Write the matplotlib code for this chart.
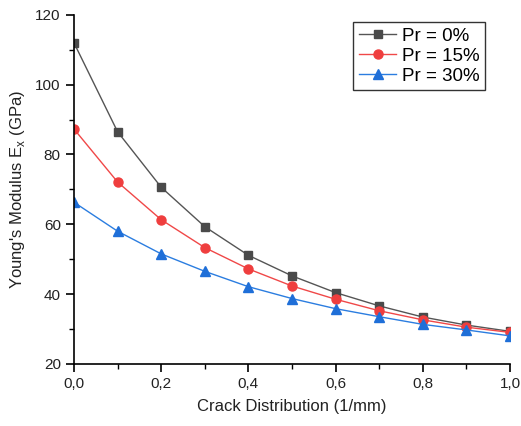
import matplotlib
matplotlib.use("Agg")
import matplotlib.pyplot as plt
from matplotlib.ticker import MultipleLocator, FuncFormatter

# Crack distribution (1/mm)
crack = [0.0, 0.1, 0.2, 0.3, 0.4, 0.5, 0.6, 0.7, 0.8, 0.9, 1.0]

# Young's modulus Ex (GPa) for each porosity
ex_pr0 = [112.0, 86.5, 70.6, 59.3, 51.1, 45.2, 40.4, 36.6, 33.4, 31.1, 29.3]
ex_pr15 = [87.3, 72.1, 61.3, 53.3, 47.2, 42.3, 38.5, 35.2, 32.6, 30.5, 29.0]
ex_pr30 = [66.3, 58.0, 51.5, 46.5, 42.1, 38.7, 35.8, 33.5, 31.3, 29.7, 28.0]

labels = ["Pr = 0%", "Pr = 15%", "Pr = 30%"]

plt.rcParams['font.family'] = ['Liberation Sans', 'DejaVu Sans']

fig = plt.figure(figsize=(5.21, 4.26), dpi=100)
ax = fig.add_axes([0.142, 0.146, 0.837, 0.819])

ax.plot(crack, ex_pr0, color='#555555', lw=1.0, marker='s', ms=6,
        mfc='#4a4a4a', mec='#4a4a4a', label=labels[0])
ax.plot(crack, ex_pr15, color='#f04848', lw=1.0, marker='o', ms=6.5,
        mfc='#ef3e3e', mec='#ef3e3e', label=labels[1])
ax.plot(crack, ex_pr30, color='#2b7de0', lw=1.0, marker='^', ms=7,
        mfc='#1f6fd8', mec='#1f6fd8', label=labels[2])

ax.set_xlim(0, 1.0)
ax.set_ylim(20, 120)
ax.xaxis.set_major_locator(MultipleLocator(0.2))
ax.xaxis.set_minor_locator(MultipleLocator(0.1))
ax.yaxis.set_major_locator(MultipleLocator(20))
ax.yaxis.set_minor_locator(MultipleLocator(10))
ax.xaxis.set_major_formatter(FuncFormatter(lambda v, p: f"{v:.1f}".replace('.', ',')))

for s in ['top', 'right']:
    ax.spines[s].set_visible(False)
for s in ['left', 'bottom']:
    ax.spines[s].set_linewidth(1.2)
ax.tick_params(which='major', direction='out', length=6, width=1.2, labelsize=11, colors='black')
ax.tick_params(which='minor', direction='out', length=3.5, width=1.0)
for lab in ax.get_xticklabels() + ax.get_yticklabels():
    lab.set_color('#222222')

ax.set_xlabel("Crack Distribution (1/mm)", fontsize=12, color='#222222', labelpad=6)
ax.set_ylabel("Young's Modulus E$_\\mathregular{x}$ (GPa)", fontsize=12, color='#222222', labelpad=6)

leg = ax.legend(loc='upper right', bbox_to_anchor=(0.943, 0.98), fontsize=13.5, frameon=True,
                fancybox=False, edgecolor='black', handlelength=2.0, borderpad=0.3,
                labelspacing=0.15, handletextpad=0.3, borderaxespad=0.0)
leg.get_frame().set_linewidth(1.0)

fig.savefig("out.png", dpi=100)
